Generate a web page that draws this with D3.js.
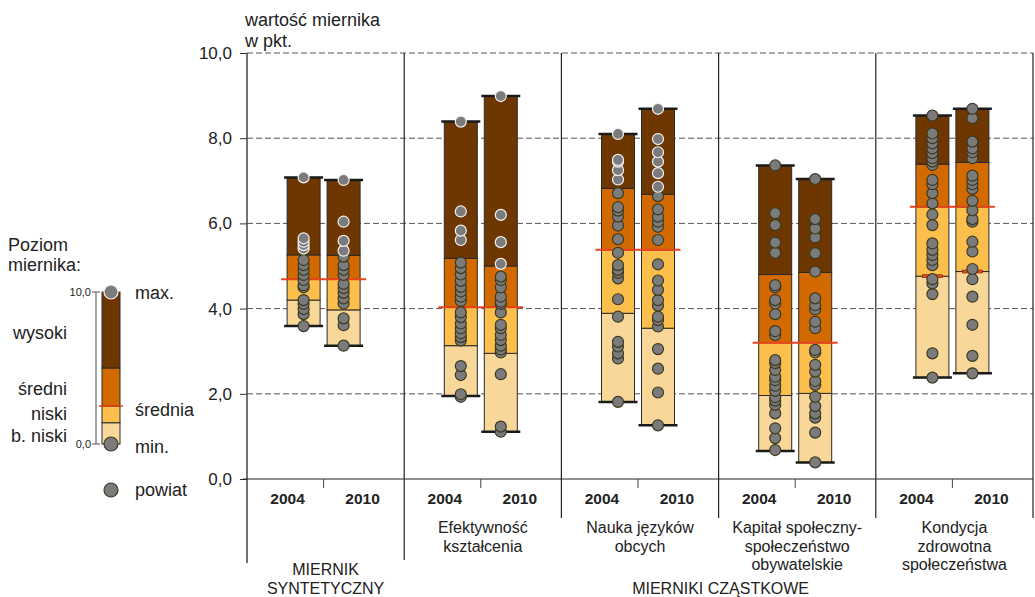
<!DOCTYPE html>
<html>
<head>
<meta charset="utf-8">
<script src="https://cdn.jsdelivr.net/npm/d3@7"></script>
<style>
  body { margin: 0; background: #fff; }
  svg { display: block; font-family: "Liberation Sans", Arial, sans-serif; }
</style>
</head>
<body>
<div id="chart"></div>
<script>
// categories (columns) and their labels under the axis
const categories = ["syntetyczny", "efektywnosc", "jezyki", "kapital", "kondycja"];
const categoryLines = [
  [],
  ["Efektywność", "kształcenia"],
  ["Nauka języków", "obcych"],
  ["Kapitał społeczny-", "społeczeństwo", "obywatelskie"],
  ["Kondycja", "zdrowotna", "społeczeństwa"]
];
const years = ["2004", "2010"];
const yTicks = [0, 2, 4, 6, 8, 10];

// level boundaries per category, per year [2004, 2010]
const minVals = [[3.59, 3.13], [1.95, 1.11], [1.81, 1.26], [0.66, 0.39], [2.38, 2.48]];
const lowBounds = [[4.20, 3.97], [3.13, 2.95], [3.89, 3.54], [1.96, 2.01], [4.76, 4.87]];
const means = [4.69, 4.03, 5.38, 3.20, 6.39];
const highBounds = [[5.26, 5.25], [5.18, 5.00], [6.82, 6.68], [4.80, 4.85], [7.39, 7.43]];
const maxVals = [[7.08, 7.02], [8.39, 8.99], [8.10, 8.69], [7.36, 7.04], [8.53, 8.69]];

// poviat values
const powiaty = [
  [
    [7.08, 5.65, 5.57, 5.49, 5.41, 5.14, 5.02, 4.91, 4.79, 4.67, 4.55, 4.50, 4.20, 4.11, 3.99, 3.87, 3.59],
    [7.02, 6.04, 5.59, 5.36, 5.22, 5.02, 4.91, 4.79, 4.58, 4.48, 4.37, 4.24, 4.12, 3.77, 3.61, 3.13]
  ],
  [
    [8.39, 6.28, 5.83, 5.61, 5.08, 4.95, 4.80, 4.65, 4.51, 4.40, 4.28, 4.18, 3.91, 3.80, 3.65, 3.54, 3.42, 3.33, 3.25, 2.65, 2.44, 1.99, 1.93],
    [8.99, 6.20, 5.56, 5.05, 4.75, 4.67, 4.50, 4.28, 4.16, 4.11, 3.91, 3.62, 3.54, 3.38, 3.26, 3.13, 3.04, 2.97, 2.46, 1.23, 1.11]
  ],
  [
    [8.10, 7.49, 7.45, 7.25, 7.03, 6.71, 6.38, 6.30, 6.16, 5.95, 5.63, 5.31, 5.02, 4.91, 4.84, 4.71, 4.22, 3.81, 3.22, 3.11, 2.95, 2.83, 1.81],
    [8.69, 7.98, 7.67, 7.45, 7.18, 6.86, 6.64, 6.33, 6.16, 6.04, 5.92, 5.61, 5.04, 4.66, 4.44, 4.20, 4.07, 3.81, 3.73, 3.58, 3.05, 2.59, 2.03, 1.26]
  ],
  [
    [7.36, 6.24, 5.96, 5.55, 5.31, 4.55, 4.50, 4.20, 4.12, 3.87, 3.47, 3.38, 2.79, 2.72, 2.56, 2.40, 2.32, 2.19, 2.07, 1.92, 1.84, 1.74, 1.54, 1.19, 0.96, 0.68],
    [7.04, 6.10, 5.88, 5.67, 5.30, 4.87, 4.24, 4.08, 3.98, 3.69, 3.54, 3.03, 2.97, 2.68, 2.52, 2.30, 2.21, 1.93, 1.71, 1.54, 1.44, 1.09, 0.39]
  ],
  [
    [8.53, 8.11, 8.00, 7.88, 7.76, 7.65, 7.53, 7.45, 7.37, 7.02, 6.92, 6.71, 6.47, 6.21, 5.96, 5.53, 5.38, 5.26, 5.14, 5.02, 4.69, 4.59, 4.34, 2.95, 2.38],
    [8.69, 8.47, 7.92, 7.76, 7.67, 7.53, 7.12, 7.02, 6.92, 6.81, 6.53, 6.31, 6.10, 6.04, 5.57, 5.34, 4.93, 4.69, 4.28, 3.62, 2.89, 2.48]
  ]
];

// legend example levels: min, b.niski/niski, mean, high, max
const legendLevels = [0, 1.4, 2.5, 5.0, 10];
const levelColors = ["#f8d799", "#fdbf4b", "#d36a00", "#6f3700"];

const width = 1035;
const height = 597;

const svg = d3.select("#chart").append("svg")
  .attr("width", width)
  .attr("height", height);

const y = d3.scaleLinear().domain([0, 10]).range([479, 53]);
const x = d3.scaleBand().domain(categories).range([247, 1033]);
const xYear = d3.scaleBand().domain(years).range([-36.5, 36.5]).paddingInner(0.175);
const center = c => x(c) + x.bandwidth() / 2 - 2;

// grid
svg.append("g")
  .selectAll("line")
  .data(yTicks.filter(d => d > 0))
  .enter().append("line")
  .attr("x1", 247).attr("x2", 1033)
  .attr("y1", d => y(d)).attr("y2", d => y(d))
  .style("stroke", "#555")
  .style("stroke-dasharray", "6,3");

// y axis
const yAxis = svg.append("g")
  .attr("transform", "translate(247,0)")
  .call(d3.axisLeft(y).tickValues(yTicks).tickSize(7).tickPadding(8)
    .tickFormat(d => d3.format(".1f")(d).replace(".", ",")));
yAxis.select(".domain").remove();
yAxis.selectAll("line").style("stroke", "#333");
yAxis.selectAll("text")
  .style("font-size", "17px")
  .style("fill", "#222")
  .style("font-family", "Liberation Sans, Arial, sans-serif");

svg.append("text").attr("x", 245).attr("y", 26)
  .style("font-size", "18px").style("fill", "#222").text("wartość miernika");
svg.append("text").attr("x", 245).attr("y", 47)
  .style("font-size", "18px").style("fill", "#222").text("w pkt.");

// frame lines
svg.append("line").attr("x1", 247).attr("x2", 247).attr("y1", 53).attr("y2", 563)
  .style("stroke", "#444").style("stroke-width", 1.5);
svg.append("line").attr("x1", 243).attr("x2", 1033).attr("y1", y(0)).attr("y2", y(0))
  .style("stroke", "#222").style("stroke-width", 1.2);
categories.forEach((c, i) => {
  const xr = x(c) + x.bandwidth();
  svg.append("line").attr("x1", xr).attr("x2", xr)
    .attr("y1", 53).attr("y2", i === 0 ? 560 : 518)
    .style("stroke", "#222").style("stroke-width", 1.2);
  svg.append("line").attr("x1", center(c)).attr("x2", center(c))
    .attr("y1", y(0)).attr("y2", y(0) + 9)
    .style("stroke", "#444");
});

// bars
categories.forEach((c, i) => {
  const g = svg.append("g");
  const gc = center(c);
  years.forEach((yr, j) => {
    const x0 = gc + xYear(yr);
    const bw = xYear.bandwidth();
    const stops = [minVals[i][j], lowBounds[i][j], means[i], highBounds[i][j], maxVals[i][j]];
    const segs = d3.pairs(stops);
    g.selectAll(null)
      .data(segs)
      .enter().append("rect")
      .attr("x", x0)
      .attr("width", bw)
      .attr("y", d => y(d[1]))
      .attr("height", d => y(d[0]) - y(d[1]))
      .style("fill", (d, k) => levelColors[k])
      .style("stroke", "#2a2a2a")
      .style("stroke-width", 1);
    // caps
    [minVals[i][j], maxVals[i][j]].forEach(v => {
      g.append("line")
        .attr("x1", x0 - 3).attr("x2", x0 + bw + 3)
        .attr("y1", y(v)).attr("y2", y(v))
        .style("stroke", "#1a1a1a").style("stroke-width", 2.5);
    });
    if (i === 4) {
      g.append("rect")
        .attr("x", x0 + bw / 2 - 10).attr("y", y(lowBounds[i][j]) - 1.5)
        .attr("width", 20).attr("height", 3)
        .style("fill", "#e8431a").style("stroke", "#7a2a10").style("stroke-width", 0.6);
    }
  });
  // mean line
  g.append("line")
    .attr("x1", gc + xYear(years[0]) - 6)
    .attr("x2", gc + xYear(years[1]) + xYear.bandwidth() + 6)
    .attr("y1", y(means[i])).attr("y2", y(means[i]))
    .style("stroke", "#e8431a").style("stroke-width", 2);

  // poviat dots
  years.forEach((yr, j) => {
    const cx = gc + xYear(yr) + xYear.bandwidth() / 2;
    g.selectAll(null)
      .data(powiaty[i][j].slice().reverse())
      .enter().append("circle")
      .attr("cx", cx)
      .attr("cy", d => y(d))
      .attr("r", 5.5)
      .style("fill", "#7b7b7b")
      .style("stroke", d => (i < 3 && d > highBounds[i][j]) ? "#f2f2f2" : "#3c3a22")
      .style("stroke-width", 1.2);
  });

  // year labels
  years.forEach((yr, j) => {
    svg.append("text")
      .attr("x", gc + (j === 0 ? -36 : 39))
      .attr("y", 504)
      .attr("text-anchor", "middle")
      .style("font-size", "15.5px").style("font-weight", "bold").style("fill", "#222")
      .text(yr);
  });

  // category labels
  categoryLines[i].forEach((t, k) => {
    svg.append("text")
      .attr("x", gc + 2)
      .attr("y", 533 + k * 18.5)
      .attr("text-anchor", "middle")
      .style("font-size", "16px").style("fill", "#222")
      .text(t);
  });
});

svg.append("text").attr("x", center(categories[0]) + 2).attr("y", 575)
  .attr("text-anchor", "middle").style("font-size", "16px").style("fill", "#222").text("MIERNIK");
svg.append("text").attr("x", center(categories[0]) + 2).attr("y", 594)
  .attr("text-anchor", "middle").style("font-size", "16px").style("fill", "#222").text("SYNTETYCZNY");
svg.append("text").attr("x", (x(categories[1]) + 1033) / 2 + 2).attr("y", 594)
  .attr("text-anchor", "middle").style("font-size", "16px").style("fill", "#222").text("MIERNIKI CZĄSTKOWE");

// legend
const ly = d3.scaleLinear().domain([0, 10]).range([444, 292]);
const legend = svg.append("g");
legend.append("text").attr("x", 8).attr("y", 251)
  .style("font-size", "18px").style("fill", "#222").text("Poziom");
legend.append("text").attr("x", 8).attr("y", 271)
  .style("font-size", "18px").style("fill", "#222").text("miernika:");

legend.append("line").attr("x1", 96).attr("x2", 96).attr("y1", ly(10)).attr("y2", ly(0))
  .style("stroke", "#888").style("stroke-width", 1.5);
[0, 10].forEach(v => {
  legend.append("line").attr("x1", 92).attr("x2", 100).attr("y1", ly(v)).attr("y2", ly(v))
    .style("stroke", "#555");
  legend.append("text").attr("x", 91).attr("y", ly(v) + 4).attr("text-anchor", "end")
    .style("font-size", "11px").style("fill", "#222").text(d3.format(".1f")(v).replace(".", ","));
});
legend.selectAll(null)
  .data(d3.pairs(legendLevels))
  .enter().append("rect")
  .attr("x", 102).attr("width", 18)
  .attr("y", d => ly(d[1]))
  .attr("height", d => ly(d[0]) - ly(d[1]))
  .style("fill", (d, k) => levelColors[k])
  .style("stroke", "#2a2a2a").style("stroke-width", 1);
legend.append("line").attr("x1", 99).attr("x2", 123)
  .attr("y1", ly(legendLevels[2])).attr("y2", ly(legendLevels[2]))
  .style("stroke", "#e8431a").style("stroke-width", 1.5);
legend.append("circle").attr("cx", 111).attr("cy", ly(10)).attr("r", 7)
  .style("fill", "#7b7b7b").style("stroke", "#f2f2f2").style("stroke-width", 1.2);
legend.append("circle").attr("cx", 111).attr("cy", ly(0)).attr("r", 7)
  .style("fill", "#7b7b7b").style("stroke", "#3c3a22").style("stroke-width", 1.2);
legend.append("circle").attr("cx", 111).attr("cy", 490).attr("r", 7)
  .style("fill", "#7b7b7b").style("stroke", "#3c3a22").style("stroke-width", 1.2);

const rightLabels = [["max.", 299], ["średnia", 416], ["min.", 453], ["powiat", 496]];
rightLabels.forEach(([t, yy]) => {
  legend.append("text").attr("x", 135).attr("y", yy)
    .style("font-size", "18px").style("fill", "#222").text(t);
});
const leftLabels = [["wysoki", 339], ["średni", 395], ["niski", 420], ["b. niski", 442]];
leftLabels.forEach(([t, yy]) => {
  legend.append("text").attr("x", 67).attr("y", yy).attr("text-anchor", "end")
    .style("font-size", "18px").style("fill", "#222").text(t);
});
</script>
</body>
</html>
